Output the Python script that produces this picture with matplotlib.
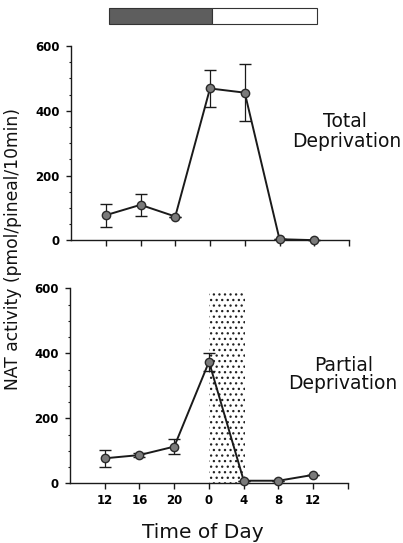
import matplotlib
matplotlib.use("Agg")
import matplotlib.pyplot as plt
from matplotlib.patches import Rectangle
import matplotlib.transforms as mtransforms

plt.rcParams['font.family'] = ['DejaVu Sans']
plt.rcParams['hatch.linewidth'] = 0.9

# ---- data ----
time_labels = ['12', '16', '20', '0', '4', '8', '12']
positions = [1, 2, 3, 4, 5, 6, 7]
total_mean = [78, 110, 74, 469, 456, 4, 1]
total_err = [35, 33, 0, 57, 88, 0, 0]
partial_mean = [77, 87, 113, 374, 8, 8, 26]
partial_err = [26, 6, 23, 28, 0, 0, 0]
# light/dark bar (dark phase then light phase) in x positions
dark_phase = (1.1, 4.05)
light_phase = (4.05, 7.08)
# light exposure window in partial deprivation
exposure_window = (4.0, 5.05)
exposure_top = 595

fig = plt.figure(figsize=(4.03, 5.43), dpi=100)
ax1 = fig.add_axes([0.1762, 0.5571, 0.6898, 0.3582])
ax2 = fig.add_axes([0.1737, 0.1099, 0.6898, 0.3591])

line_kw = dict(color='#1a1a1a', lw=1.4, marker='o', markersize=6,
               markerfacecolor='#7a7a7a', markeredgecolor='#2a2a2a',
               markeredgewidth=1.0, ecolor='#1a1a1a', elinewidth=0.9,
               capsize=4.5, capthick=0.9, clip_on=False, zorder=3)

ax2.fill_between(exposure_window, 0, exposure_top, facecolor='none',
                 edgecolor='#222222', hatch='...', linewidth=0, zorder=1)

for ax, mean, err in [(ax1, total_mean, total_err), (ax2, partial_mean, partial_err)]:
    ax.errorbar(positions, mean, yerr=err, **line_kw)
    ax.set_xlim(0, 8)
    ax.set_ylim(0, 600)
    ax.spines['top'].set_visible(False)
    ax.spines['right'].set_visible(False)
    for s in ('left', 'bottom'):
        ax.spines[s].set_linewidth(1.0)
        ax.spines[s].set_color('#1a1a1a')
    ax.set_xticks(positions + [8])
    ax.set_yticks([0, 200, 400, 600])
    ax.set_yticks(range(0, 601, 50), minor=True)
    ax.tick_params(axis='x', direction='out', length=4, width=1.0, pad=4,
                   labelsize=8.5, color='#1a1a1a')
    ax.tick_params(axis='y', which='major', direction='out', length=3.5,
                   width=1.0, pad=4.5, labelsize=8.5, color='#1a1a1a')
    ax.tick_params(axis='y', which='minor', direction='out', length=1.5,
                   width=0.8, color='#1a1a1a')
    for lab in ax.get_yticklabels():
        lab.set_fontweight('bold')

ax1.set_xticklabels([''] * 8)
ax2.set_xticklabels(time_labels + [''])
for lab in ax2.get_xticklabels():
    lab.set_fontweight('bold')

# light/dark bar above the top panel
trans = mtransforms.blended_transform_factory(ax1.transData, fig.transFigure)
bar_y0, bar_h = 0.9552, 0.0295
fig.patches.append(Rectangle((dark_phase[0], bar_y0), dark_phase[1] - dark_phase[0], bar_h,
                             transform=trans, facecolor='#5e5e5e', edgecolor='#333333',
                             linewidth=0.8, figure=fig))
fig.patches.append(Rectangle((light_phase[0], bar_y0), light_phase[1] - light_phase[0], bar_h,
                             transform=trans, facecolor='white', edgecolor='#333333',
                             linewidth=0.8, figure=fig))

# panel labels
tk = dict(fontsize=13.5, color='#111111', va='baseline', ha='center', clip_on=False)
ax1.text(0.986, 0.582, 'Total', transform=ax1.transAxes, **tk)
ax1.text(0.992, 0.482, 'Deprivation', transform=ax1.transAxes, **tk)
ax2.text(0.986, 0.577, 'Partial', transform=ax2.transAxes, **tk)
ax2.text(0.980, 0.482, 'Deprivation', transform=ax2.transAxes, **tk)

fig.text(0.033, 0.5414, 'NAT activity (pmol/pineal/10min)', rotation=90,
         ha='center', va='center', fontsize=12.3, color='#111111')
fig.text(0.504, 0.0098, 'Time of Day', ha='center', va='baseline',
         fontsize=14.5, color='#111111')

fig.savefig('out.png', dpi=100)
